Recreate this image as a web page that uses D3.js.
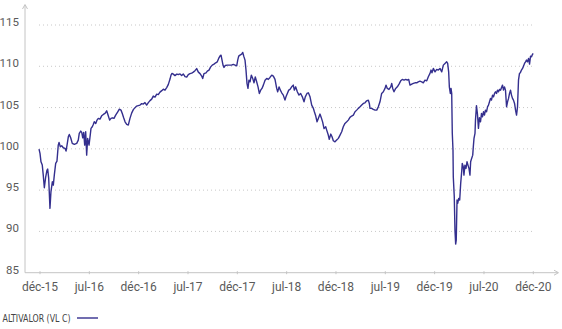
<!DOCTYPE html>
<html><head><meta charset="utf-8">
<script src="https://cdn.jsdelivr.net/npm/d3@7"></script>
<style>html,body{margin:0;padding:0;background:#fff;}svg{display:block;}</style>
</head><body>
<svg id="c" width="562" height="329"></svg>
<script>
// time in decimal years, values = VL
const years = [
2015.990,2016.000,2016.010,2016.023,2016.033,2016.044,2016.058,2016.071,2016.078,2016.088,
2016.101,2016.111,2016.125,2016.135,2016.145,2016.159,2016.172,2016.185,2016.193,2016.206,
2016.220,2016.236,2016.253,2016.264,2016.274,2016.287,2016.297,2016.311,2016.327,2016.348,
2016.372,2016.388,2016.398,2016.413,2016.423,2016.433,2016.443,2016.453,2016.463,2016.473,
2016.483,2016.497,2016.507,2016.517,2016.530,2016.540,2016.550,2016.565,2016.578,2016.591,
2016.608,2016.625,2016.642,2016.659,2016.676,2016.692,2016.706,2016.720,2016.733,2016.750,
2016.767,2016.788,2016.804,2016.821,2016.834,2016.848,2016.862,2016.879,2016.895,2016.912,
2016.929,2016.946,2016.963,2016.980,2016.996,2017.014,2017.031,2017.047,2017.064,2017.081,
2017.098,2017.115,2017.132,2017.148,2017.166,2017.183,2017.199,2017.216,2017.234,2017.250,
2017.267,2017.284,2017.300,2017.318,2017.328,2017.338,2017.351,2017.368,2017.386,2017.402,
2017.419,2017.436,2017.452,2017.470,2017.487,2017.503,2017.520,2017.538,2017.554,2017.571,
2017.588,2017.605,2017.622,2017.639,2017.649,2017.662,2017.683,2017.696,2017.713,2017.730,
2017.746,2017.764,2017.781,2017.797,2017.811,2017.824,2017.835,2017.845,2017.855,2017.865,
2017.878,2017.898,2017.919,
2017.941,2017.959,2017.977,2017.994,2018.004,2018.014,2018.027,2018.044,2018.055,2018.065,
2018.078,2018.088,2018.098,2018.108,2018.118,2018.129,2018.142,2018.156,2018.169,2018.182,
2018.196,2018.210,2018.223,2018.237,2018.250,2018.264,2018.281,2018.298,2018.314,2018.331,
2018.349,2018.365,2018.382,2018.399,2018.409,2018.423,2018.436,2018.450,2018.466,2018.483,
2018.493,2018.507,2018.521,2018.534,2018.551,2018.567,2018.578,2018.592,2018.608,2018.625,
2018.642,2018.659,2018.676,2018.689,2018.706,2018.720,2018.737,2018.754,2018.771,2018.781,
2018.795,2018.808,2018.821,2018.838,
2018.851,2018.865,2018.879,2018.896,2018.906,2018.922,2018.932,2018.947,2018.960,2018.973,
2018.990,2019.007,2019.024,2019.041,2019.058,2019.074,2019.091,2019.109,2019.125,2019.142,
2019.159,2019.176,2019.193,2019.210,2019.226,2019.244,2019.261,2019.277,2019.294,2019.311,
2019.328,2019.338,2019.345,2019.362,2019.378,2019.396,2019.413,2019.429,2019.446,2019.463,
2019.480,2019.497,2019.507,2019.520,2019.537,2019.555,2019.565,2019.575,2019.588,2019.605,
2019.622,2019.639,2019.656,2019.672,2019.690,2019.707,2019.723,2019.737,2019.750,2019.768,
2019.784,2019.801,2019.818,2019.834,2019.851,
2019.869,2019.885,2019.902,2019.920,2019.936,2019.953,2019.963,2019.973,2019.987,2020.004,
2020.021,2020.037,2020.054,2020.072,2020.088,2020.105,2020.122,2020.132,2020.142,2020.149,
2020.159,2020.166,2020.173,2020.179,2020.186,2020.189,2020.199,2020.206,2020.213,2020.219,
2020.227,2020.234,2020.244,2020.254,2020.264,2020.274,2020.280,2020.290,2020.297,2020.307,
2020.318,2020.328,2020.338,2020.348,2020.358,2020.365,2020.375,2020.386,2020.392,2020.399,
2020.409,
2020.414,2020.424,2020.434,2020.444,2020.454,2020.465,2020.475,2020.485,2020.495,2020.505,
2020.515,2020.526,2020.536,2020.546,2020.556,2020.566,2020.576,2020.587,2020.597,2020.607,
2020.617,2020.627,2020.637,2020.647,2020.658,2020.668,2020.678,2020.688,2020.698,2020.708,
2020.718,2020.729,2020.739,2020.749,2020.759,2020.769,2020.779,2020.789,2020.799,2020.810,
2020.820,2020.830,2020.840,2020.850,2020.860,2020.870,2020.880,2020.891,2020.901,2020.911,
2020.921,2020.931,2020.941,2020.952,2020.962,2020.972,2020.982,2020.992,2021.000
];
const values = [
99.97,99.45,98.43,98.03,96.82,95.29,96.62,97.43,97.55,96.46,
92.79,94.80,96.01,95.61,96.82,98.24,98.52,100.45,100.78,100.25,
100.37,100.13,100.06,99.73,100.45,101.46,101.75,101.34,100.66,100.54,
100.66,101.06,101.87,102.15,101.99,101.34,101.99,100.45,102.07,99.24,
101.27,100.45,101.46,102.48,102.67,102.96,103.28,103.08,103.48,103.69,
103.60,104.00,104.17,104.29,104.61,104.00,103.48,103.69,103.76,103.69,
104.09,104.49,104.81,104.69,104.29,103.76,103.28,102.96,102.88,103.69,
104.33,104.75,104.99,105.18,105.24,105.30,105.48,105.42,105.60,105.30,
105.60,105.84,106.02,106.39,106.27,106.63,106.57,106.87,107.05,107.23,
107.11,107.42,107.78,108.45,108.93,109.14,109.05,108.87,109.05,109.00,
109.07,108.87,109.07,108.75,108.69,109.00,109.11,109.17,109.29,109.47,
109.72,109.29,109.11,108.81,108.51,109.11,109.21,109.41,109.54,109.93,
110.14,110.26,110.42,110.54,110.95,111.23,111.35,110.75,110.14,109.86,
110.10,110.14,110.14,
110.14,110.23,110.14,110.06,110.75,111.23,111.35,111.47,111.68,111.23,
110.75,109.54,107.93,107.32,108.32,108.12,108.93,108.53,108.00,108.72,
108.12,107.51,106.71,107.11,107.32,107.72,108.32,108.53,108.41,108.65,
108.93,108.81,108.41,107.32,106.91,107.51,107.11,106.79,106.51,105.90,
106.30,106.71,107.11,107.20,107.51,107.72,107.11,107.51,106.91,106.51,
106.71,106.30,105.70,106.30,106.71,106.79,106.30,105.30,104.90,104.49,
103.97,103.28,103.69,104.21,
103.78,103.24,102.45,102.67,102.27,101.67,101.15,101.79,101.46,100.98,
100.85,101.06,101.27,101.67,102.07,102.67,103.08,103.28,103.48,103.81,
103.97,104.09,104.49,104.69,104.90,105.09,105.30,105.50,105.58,105.82,
105.90,105.50,104.90,104.90,104.78,104.69,104.69,105.09,105.70,106.71,
106.91,107.32,107.72,107.32,107.20,107.51,107.93,107.32,106.91,107.32,
107.51,107.84,108.24,108.41,108.32,108.41,108.32,108.41,107.72,107.84,
107.93,108.00,108.00,108.12,108.20,
108.12,108.00,108.32,108.24,108.73,109.14,109.54,109.21,109.74,109.33,
109.62,109.54,109.74,109.33,110.14,110.35,110.54,110.35,109.33,107.51,
106.71,107.32,106.71,101.87,99.85,96.62,94.20,90.16,88.47,88.95,
93.80,93.40,94.00,93.80,95.82,97.22,98.24,97.83,96.82,98.03,
97.63,98.43,98.03,97.63,96.82,98.43,98.84,99.24,100.25,101.27,
101.87,
103.48,105.24,104.21,102.48,103.78,103.28,104.29,103.88,104.49,104.09,
104.69,104.49,105.09,105.30,105.70,106.11,105.90,106.51,106.30,106.71,
106.91,106.71,107.11,106.91,107.20,107.11,107.44,107.72,107.11,107.51,
107.11,105.09,105.70,106.11,106.71,107.11,106.51,106.11,105.90,105.50,
104.69,104.09,105.09,108.32,109.14,109.26,109.54,109.74,110.02,110.35,
110.54,110.75,110.54,110.95,110.26,111.23,111.15,111.47,111.56
];
const xTickValues = [2016,2016.5,2017,2017.5,2018,2018.5,2019,2019.5,2020,2020.5,2021];
const xTickLabels = ["déc-15","jul-16","déc-16","jul-17","déc-17","jul-18","déc-18","jul-19","déc-19","jul-20","déc-20"];
const yTickValues = [85,90,95,100,105,110,115];
const seriesName = "ALTIVALOR (VL C)";

const n = Math.min(years.length, values.length);
const data = d3.range(n).map(i => ({t: years[i], v: values[i]}));

const svg = d3.select("#c");
const x = d3.scaleLinear().domain([2016, 2021]).range([40, 533.3]);
const y = d3.scaleLinear().domain([85, 115]).range([272.7, 25]);
const axisX0 = 25, axisY0 = 272.7;
const axisColor = "#c4c4c4";

// gridlines
svg.append("g").selectAll("line").data(yTickValues.filter(d => d !== 85)).join("line")
  .attr("x1", 39).attr("x2", 534)
  .attr("y1", d => y(d)).attr("y2", d => y(d))
  .attr("stroke", "#c8c8c8").attr("stroke-width", 1)
  .attr("stroke-dasharray", "1,3");

// y axis line with arrow
svg.append("line").attr("x1", axisX0).attr("x2", axisX0).attr("y1", axisY0).attr("y2", 5)
  .attr("stroke", axisColor).attr("stroke-width", 1);
svg.append("path").attr("d", `M${axisX0-2.5},9 L${axisX0},4.5 L${axisX0+2.5},9`)
  .attr("fill", "none").attr("stroke", axisColor).attr("stroke-width", 1);

// x axis line with arrow
svg.append("line").attr("x1", axisX0).attr("x2", 558).attr("y1", axisY0).attr("y2", axisY0)
  .attr("stroke", axisColor).attr("stroke-width", 1);
svg.append("path").attr("d", `M554,${axisY0-2.5} L558.5,${axisY0} L554,${axisY0+2.5}`)
  .attr("fill", "none").attr("stroke", axisColor).attr("stroke-width", 1);

// y labels
svg.append("g").selectAll("text").data(yTickValues).join("text")
  .attr("x", 19).attr("y", d => y(d) + 1)
  .attr("text-anchor", "end")
  .attr("font-family", "Roboto, 'Noto Sans', sans-serif")
  .attr("font-size", 11.5).attr("fill", "#5a5a5a")
  .text(d => d);

// x ticks + labels
const xg = svg.append("g");
xg.selectAll("line").data(xTickValues).join("line")
  .attr("x1", d => x(d)).attr("x2", d => x(d))
  .attr("y1", axisY0 - 1.5).attr("y2", axisY0 + 1.5)
  .attr("stroke", axisColor).attr("stroke-width", 1);
xg.selectAll("text").data(xTickValues).join("text")
  .attr("x", d => x(d)).attr("y", 291)
  .attr("text-anchor", "middle")
  .attr("font-family", "Roboto, 'Noto Sans', sans-serif")
  .attr("font-size", 12).attr("fill", "#5a5a5a")
  .text((d, i) => xTickLabels[i]);

// series line
const line = d3.line().x(d => x(d.t)).y(d => y(d.v));
svg.append("path").datum(data).attr("d", line)
  .attr("fill", "none").attr("stroke", "#342f8e").attr("stroke-width", 1.4)
  .attr("stroke-linejoin", "round");

// legend
svg.append("text").attr("x", 2.5).attr("y", 321.5)
  .attr("font-family", "'Liberation Sans Narrow', 'DejaVu Sans Condensed', sans-serif")
  .attr("font-size", 11).attr("fill", "#444")
  .attr("textLength", 68).attr("lengthAdjust", "spacingAndGlyphs")
  .text(seriesName);
svg.append("line").attr("x1", 77).attr("x2", 98).attr("y1", 318).attr("y2", 318)
  .attr("stroke", "#342f8e").attr("stroke-width", 1.4);
</script>
</body></html>
